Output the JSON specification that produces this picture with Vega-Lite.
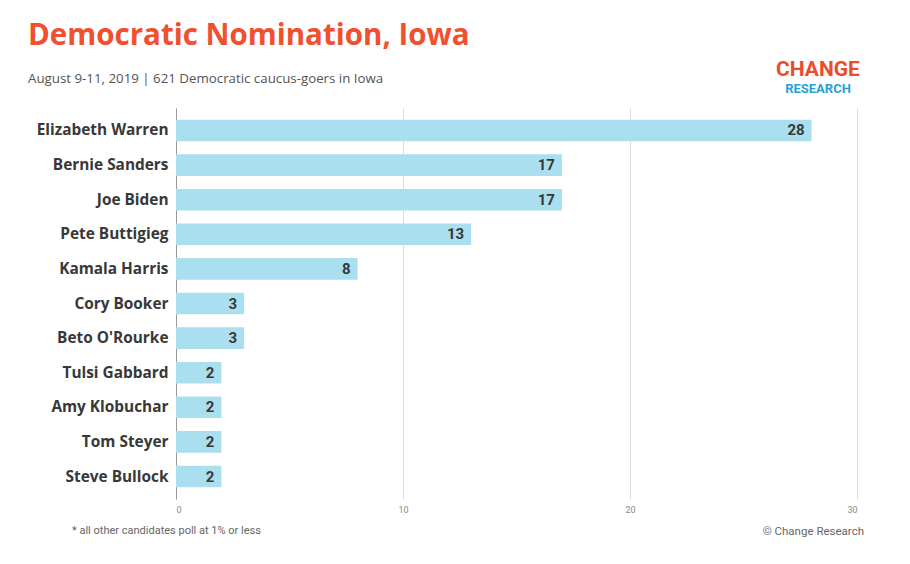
{
  "$schema": "https://vega.github.io/schema/vega-lite/v6.json",
  "width": 681,
  "height": 391,
  "autosize": "none",
  "padding": {"left": 176, "top": 108, "right": 53, "bottom": 65},
  "background": "white",
  "config": {"view": {"stroke": null}, "font": "Roboto"},
  "title": {
    "text": "Democratic Nomination, Iowa",
    "subtitle": "August 9-11, 2019  |  621 Democratic caucus-goers in Iowa",
    "anchor": "start",
    "frame": "group",
    "dx": -148,
    "offset": -27,
    "font": "Open Sans",
    "fontSize": 29.5,
    "fontWeight": "bold",
    "color": "#f1502f",
    "subtitleFont": "Open Sans",
    "subtitleFontSize": 13.3,
    "subtitleColor": "#555555",
    "subtitlePadding": 20
  },
  "data": {
    "values": [
      {"candidate": "Elizabeth Warren", "value": 28},
      {"candidate": "Bernie Sanders", "value": 17},
      {"candidate": "Joe Biden", "value": 17},
      {"candidate": "Pete Buttigieg", "value": 13},
      {"candidate": "Kamala Harris", "value": 8},
      {"candidate": "Cory Booker", "value": 3},
      {"candidate": "Beto O'Rourke", "value": 3},
      {"candidate": "Tulsi Gabbard", "value": 2},
      {"candidate": "Amy Klobuchar", "value": 2},
      {"candidate": "Tom Steyer", "value": 2},
      {"candidate": "Steve Bullock", "value": 2}
    ]
  },
  "encoding": {
    "y": {
      "field": "candidate",
      "type": "nominal",
      "sort": null,
      "scale": {"paddingInner": 0.375, "paddingOuter": 0.3375},
      "axis": {
        "title": null,
        "ticks": false,
        "labelPadding": 8,
        "labelFontSize": 15.4,
        "labelFontWeight": "bold",
        "labelColor": "#383838",
        "labelFont": "Open Sans",
        "domainColor": "#999999",
        "domainWidth": 1
      }
    },
    "x": {
      "field": "value",
      "type": "quantitative",
      "scale": {"domain": [0, 30]},
      "axis": {
        "title": null,
        "values": [0, 10, 20, 30],
        "grid": true,
        "gridColor": "#dddddd",
        "domain": false,
        "ticks": false,
        "labelFontSize": 9,
        "labelColor": "#888888",
        "labelPadding": 6
      }
    }
  },
  "layer": [
    {"mark": {"type": "bar", "color": "#aadfef"}},
    {
      "mark": {"type": "text", "align": "right", "dx": -7, "fontSize": 15, "fontWeight": "bold", "color": "#383838", "font": "Roboto"},
      "encoding": {"text": {"field": "value", "type": "quantitative"}}
    },
    {
      "data": {"values": [{"note": "* all other candidates poll at 1% or less"}]},
      "mark": {"type": "text", "align": "left", "baseline": "middle", "fontSize": 11, "color": "#666666", "font": "Roboto"},
      "encoding": {"x": {"value": -104}, "y": {"value": 423}, "text": {"field": "note"}}
    },
    {
      "data": {"values": [{"note": "© Change Research"}]},
      "mark": {"type": "text", "align": "right", "baseline": "middle", "fontSize": 11.5, "color": "#666666", "font": "Roboto"},
      "encoding": {"x": {"value": 688}, "y": {"value": 424}, "text": {"field": "note"}}
    },
    {
      "data": {"values": [{"logo": "CHANGE"}]},
      "mark": {"type": "text", "align": "center", "baseline": "middle", "fontSize": 21, "fontWeight": "bold", "color": "#ee4b2b", "font": "Roboto"},
      "encoding": {"x": {"value": 642}, "y": {"value": -38}, "text": {"field": "logo"}}
    },
    {
      "data": {"values": [{"logo": "RESEARCH"}]},
      "mark": {"type": "text", "align": "center", "baseline": "middle", "fontSize": 13, "fontWeight": "bold", "color": "#2a9fd6", "font": "Roboto"},
      "encoding": {"x": {"value": 642}, "y": {"value": -19}, "text": {"field": "logo"}}
    }
  ]
}
